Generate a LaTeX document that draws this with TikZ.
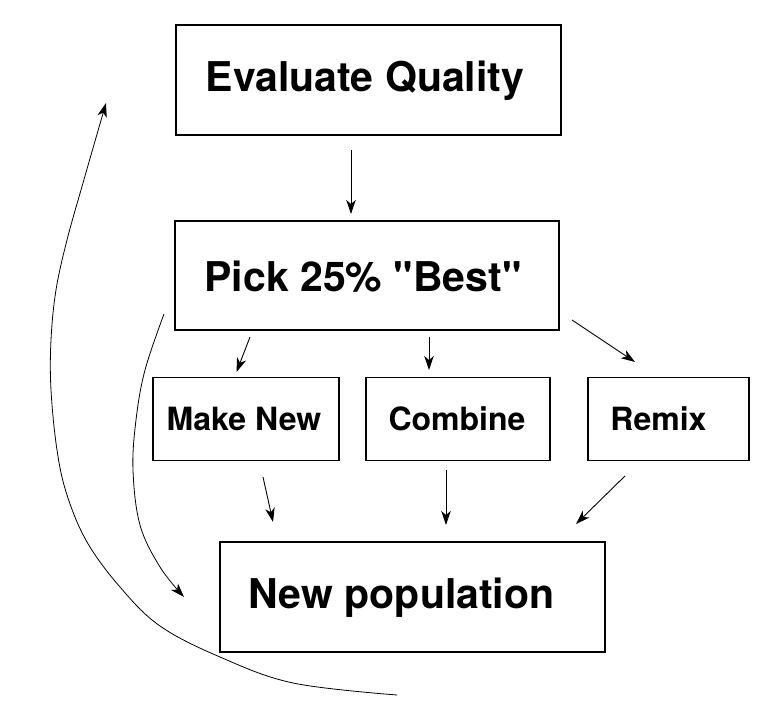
\documentclass[tikz,border=0pt]{standalone}
\usepackage{fontspec}
\setmainfont{TeX Gyre Heros}[Ligatures=TeXOff]
\usetikzlibrary{arrows.meta}
\begin{document}
\begin{tikzpicture}[x=1pt,y=1pt,
  bigbox/.style={draw, line width=2pt, inner sep=0pt},
  smallbox/.style={draw, line width=1.3pt, inner sep=0pt},
  bigtxt/.style={font=\bfseries\fontsize{41}{48}\selectfont, inner sep=0pt},
  smalltxt/.style={font=\bfseries\fontsize{32}{38}\selectfont, inner sep=0pt},
  arr/.style={line width=0.9pt, -{Stealth[length=14pt,width=9.5pt,inset=4pt]}},
  curvearr/.style={line width=0.8pt, -{Stealth[length=14pt,width=9.5pt,inset=4pt]}}
]
\useasboundingbox (0,0) rectangle (772,726);

% boxes
\node[bigbox, minimum width=385pt, minimum height=110pt,
  label={[bigtxt, xshift=-3pt, yshift=-1pt]center:Evaluate Quality}] (eq) at (368,646) {};
\node[bigbox, minimum width=384pt, minimum height=109pt,
  label={[bigtxt, xshift=-4pt, yshift=-1pt]center:Pick 25\% "Best"}] (pb) at (367,450) {};
\node[smallbox, minimum width=186pt, minimum height=83pt,
  label={[smalltxt, xshift=-2pt]center:Make New}] (mn) at (246,307) {};
\node[smallbox, minimum width=184pt, minimum height=83pt,
  label={[smalltxt, xshift=-1pt]center:Combine}] (co) at (458,307) {};
\node[smallbox, minimum width=161pt, minimum height=83pt,
  label={[smalltxt, xshift=-10pt]center:Remix}] (re) at (668.5,307) {};
\node[bigbox, minimum width=385pt, minimum height=110pt,
  label={[bigtxt, xshift=-11pt, yshift=-1pt]center:New population}] (np) at (412.5,129) {};

% arrow end points
\coordinate (a1s) at (351,576); \coordinate (a1e) at (351,512);
\coordinate (a2s) at (250,389); \coordinate (a2e) at (236.5,354);
\coordinate (a3s) at (429,389); \coordinate (a3e) at (429,356);
\coordinate (a4s) at (572,406); \coordinate (a4e) at (635,364);
\coordinate (a5s) at (263,249); \coordinate (a5e) at (273,204);
\coordinate (a6s) at (446,256); \coordinate (a6e) at (446,201);
\coordinate (a7s) at (625,250); \coordinate (a7e) at (576,202);

\draw[arr] (a1s) -- (a1e);
\draw[arr] (a2s) -- (a2e);
\draw[arr] (a3s) -- (a3e);
\draw[arr] (a4s) -- (a4e);
\draw[arr] (a5s) -- (a5e);
\draw[arr] (a6s) -- (a6e);
\draw[arr] (a7s) -- (a7e);

% inner curve: Pick -> New population
\coordinate (is) at (164,412);
\coordinate (ie) at (184,129);
\draw[curvearr] plot[smooth, tension=0.6] coordinates
  {(is) (145,356) (136,306) (133,256) (140,201) (160,159) (ie)};

% outer curve: New population -> Evaluate
\coordinate (os) at (397,31);
\coordinate (oe) at (106,623);
\draw[curvearr] plot[smooth, tension=0.6] coordinates
  {(os) (293,43) (220,69) (160,100) (120,139) (87,184) (67,231) (57,276)
   (51,336) (51,386) (56,436) (67,486) (83,543) (oe)};
\end{tikzpicture}
\end{document}
